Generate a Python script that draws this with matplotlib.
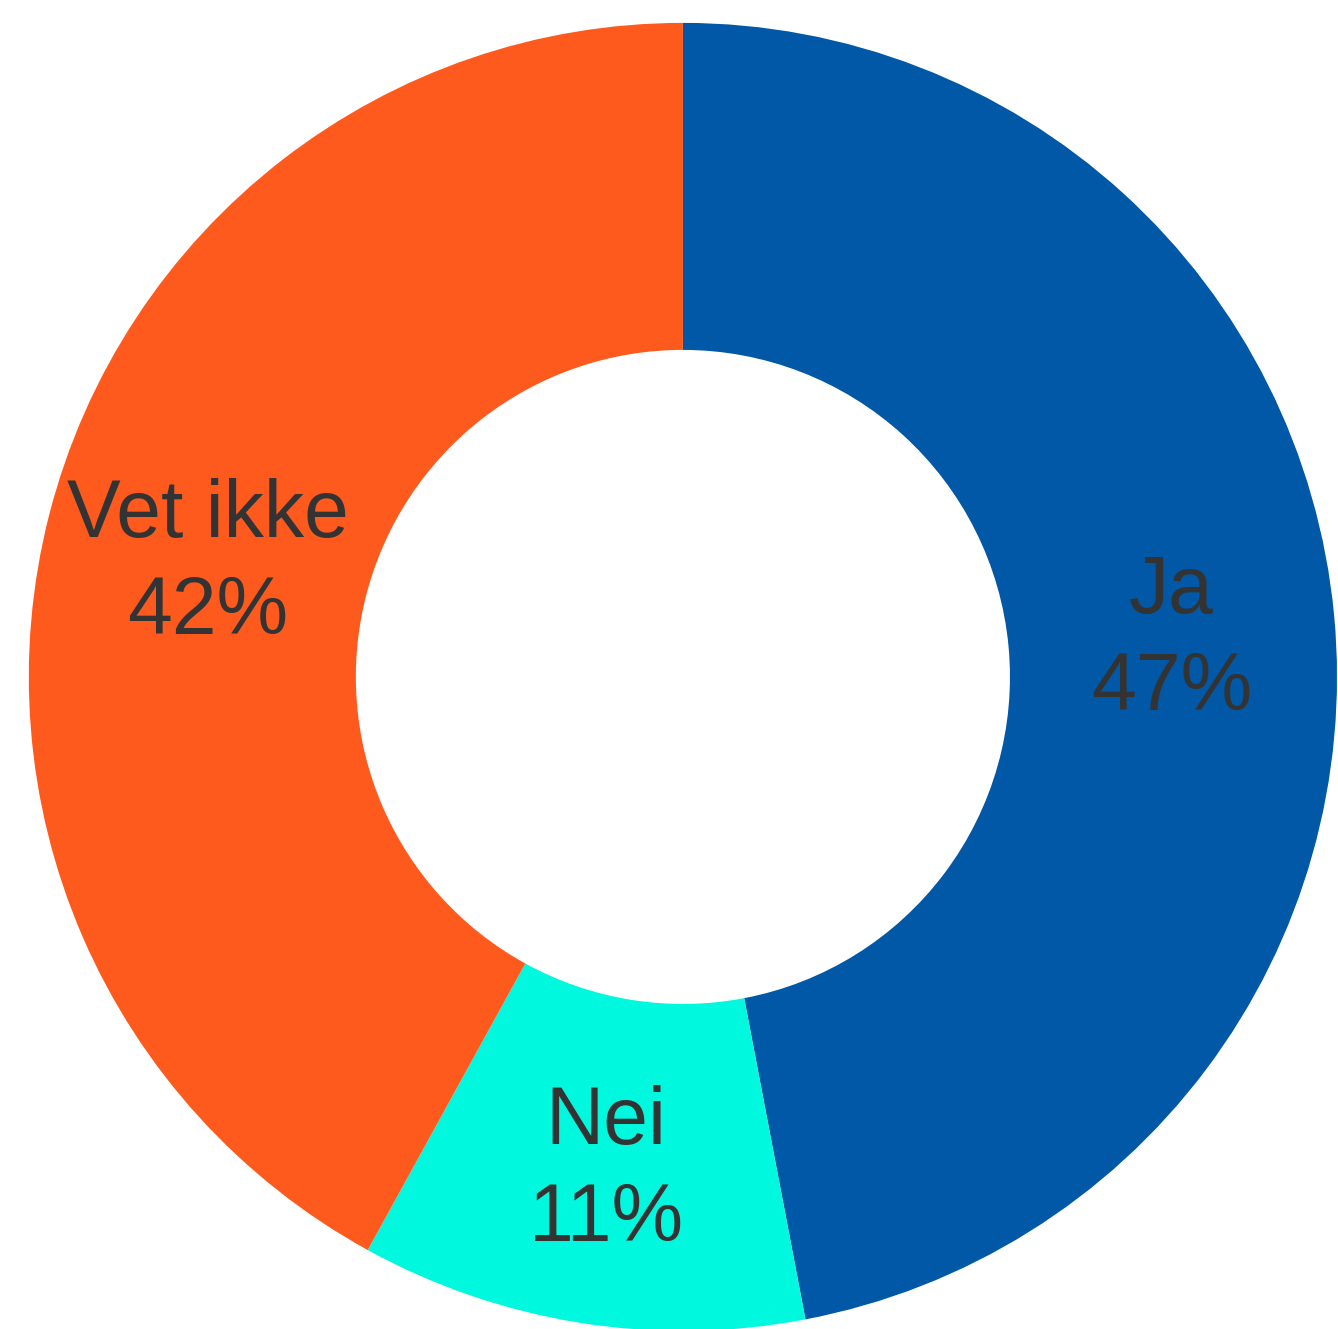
import matplotlib.pyplot as plt
import numpy as np

plt.rcParams['font.family'] = ['Liberation Sans', 'DejaVu Sans']

# data
labels = ["Ja", "Nei", "Vet ikke"]
values = [47, 11, 42]
colors = ["#0058A6", "#00F8DF", "#FF5A1E"]

fig = plt.figure(figsize=(13.38, 13.29), dpi=100)
ax = fig.add_axes([0, 0, 1, 1])

wedges, _ = ax.pie(values, colors=colors, startangle=90, counterclock=False,
                   radius=1.0, wedgeprops=dict(width=0.5, linewidth=0))

# labels in the middle of the ring
total = sum(values)
start = 90.0
for lab, v in zip(labels, values):
    mid = np.deg2rad(start - v / total * 360 / 2)
    start -= v / total * 360
    x, y = 0.75 * np.cos(mid), 0.75 * np.sin(mid) - 0.015
    ax.text(x, y, "{}\n{}%".format(lab, v), ha="center", va="center",
            fontsize=58, color="#333333", linespacing=1.35)

ax.set_xlim(-1.044, 1.0015)
ax.set_ylim(-0.997, 1.035)
ax.set_aspect("auto")
ax.axis("off")

fig.savefig("out.png", dpi=100)
